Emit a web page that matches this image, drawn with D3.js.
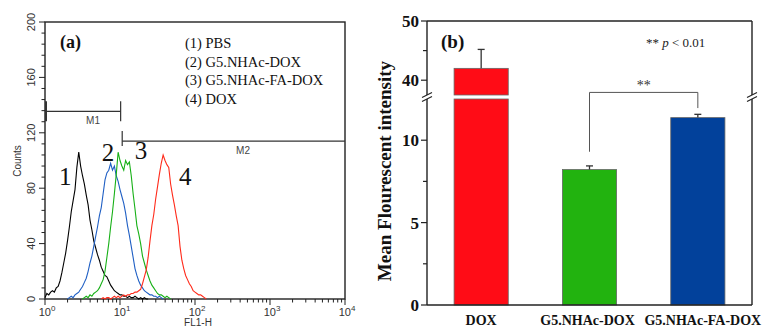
<!DOCTYPE html>
<html>
<head>
<meta charset="utf-8">
<script src="https://cdn.jsdelivr.net/npm/d3@7"></script>
<style>
  html, body { margin: 0; padding: 0; background: #fff; }
  svg { display: block; }
</style>
</head>
<body>
<svg id="fig" width="764" height="328"></svg>
<script>
// ---------- Panel (a): flow cytometry histograms ----------
// Each histogram: counts per channel, channel spacing in log10(FL1-H) units
const channelStep = 0.025;

const pbsStart = 0.0;
const pbsCounts = [1, 4, 3, 5, 6, 5, 8, 9, 13, 19, 26, 33, 42, 52, 63, 71, 79, 95, 106, 96,
  89, 83, 75, 68, 57, 50, 42, 37, 32, 28, 23, 20, 17, 16, 13, 10, 8, 6, 5, 4,
  3, 3, 2, 2, 1, 2, 1, 1, 2, 1, 0, 1, 0, 1, 0, 0];

const g5DoxStart = 0.3;
const g5DoxCounts = [0, 1, 2, 1, 3, 4, 5, 7, 9, 12, 15, 20, 26, 31, 38, 45, 52, 60, 66, 76,
  86, 91, 93, 98, 93, 96, 89, 85, 79, 74, 69, 62, 53, 46, 38, 30, 22, 17, 13, 10,
  8, 6, 5, 4, 3, 3, 2, 2, 1, 2, 1, 0];

const g5FaDoxStart = 0.5;
const g5FaDoxCounts = [0, 1, 2, 1, 3, 2, 4, 5, 6, 8, 11, 14, 20, 30, 40, 52, 63, 76, 90, 106,
  100, 96, 93, 100, 97, 99, 89, 76, 65, 53, 47, 40, 31, 26, 21, 17, 13, 10, 8, 6,
  4, 3, 3, 2, 1, 2, 1, 0];

const doxStart = 0.75;
const doxCounts = [0, 1, 0, 1, 1, 0, 1, 2, 1, 2, 1, 2, 3, 2, 3, 3, 4, 4, 5, 5,
  6, 7, 11, 16, 21, 30, 42, 53, 61, 72, 81, 90, 98, 104, 100, 97, 95, 83, 75, 68,
  60, 53, 38, 28, 22, 17, 14, 11, 9, 6, 5, 4, 3, 3, 2, 1, 0];

const histNames = ["1", "2", "3", "4"];
const histColors = ["#000000", "#1f5fc4", "#16b016", "#ff2a1a"];
const legendLines = ["(1) PBS", "(2) G5.NHAc-DOX", "(3) G5.NHAc-FA-DOX", "(4) DOX"];

// gates (FL1-H range, count level)
const gateM1 = [1, 10.2, 135.5];
const gateM2 = [10.7, 10000, 114];

// ---------- Panel (b): mean fluorescence bar chart ----------
const groups = ["DOX", "G5.NHAc-DOX", "G5.NHAc-FA-DOX"];
const meanFluor = [42.0, 8.22, 11.37];
const meanErr = [3.2, 0.22, 0.2];
const barColors = ["#ff0c16", "#22b30f", "#02419b"];

const svg = d3.select("#fig");
const serif = "'Liberation Serif', 'Times New Roman', serif";
const sans = "'Liberation Sans', Arial, sans-serif";

// ====== Panel (a) ======
const ax = d3.scaleLog().domain([1, 1e4]).range([45, 345]);
const ay = d3.scaleLinear().domain([0, 200]).range([299, 22]);
const ga = svg.append("g");

// frame
ga.append("rect").attr("x", 45).attr("y", 22).attr("width", 300).attr("height", 277)
  .attr("fill", "none").attr("stroke", "#222").attr("stroke-width", 1.4);

// y ticks (every 8 counts, longer every 40)
const yMinor = d3.range(0, 201, 8);
ga.selectAll("line.ymin").data(yMinor).join("line")
  .attr("x1", 45).attr("x2", d => d % 40 === 0 ? 39 : 41.5)
  .attr("y1", d => ay(d)).attr("y2", d => ay(d))
  .attr("stroke", "#222").attr("stroke-width", 1);
ga.selectAll("text.ylab").data(d3.range(0, 201, 40)).join("text")
  .attr("transform", d => `translate(35,${ay(d)}) rotate(-90)`)
  .attr("text-anchor", "middle")
  .attr("font-family", sans).attr("font-size", 11).attr("fill", "#333")
  .text(d => d);
ga.append("text").attr("transform", "translate(21,161) rotate(-90)")
  .attr("text-anchor", "middle").attr("font-family", sans).attr("font-size", 10)
  .attr("fill", "#333").text("Counts");

// x ticks (log)
const xMinor = [];
for (let e = 0; e < 4; e++) for (let m = 2; m <= 9; m++) xMinor.push(m * 10 ** e);
const xMajor = [1, 10, 100, 1000, 10000];
ga.selectAll("line.xmin").data(xMinor).join("line")
  .attr("x1", d => ax(d)).attr("x2", d => ax(d)).attr("y1", 299).attr("y2", 302.5)
  .attr("stroke", "#222").attr("stroke-width", 1);
ga.selectAll("line.xmaj").data(xMajor).join("line")
  .attr("x1", d => ax(d)).attr("x2", d => ax(d)).attr("y1", 299).attr("y2", 305)
  .attr("stroke", "#222").attr("stroke-width", 1);
const xl = ga.selectAll("text.xlab").data(xMajor).join("text")
  .attr("x", d => ax(d) + 2).attr("y", 316).attr("text-anchor", "middle")
  .attr("font-family", sans).attr("font-size", 11).attr("fill", "#333");
xl.append("tspan").text("10");
xl.append("tspan").attr("dy", -5).attr("font-size", 8).text(d => Math.round(Math.log10(d)));
ga.append("text").attr("x", 198).attr("y", 325.5).attr("text-anchor", "middle")
  .attr("font-family", sans).attr("font-size", 10).attr("fill", "#333").text("FL1-H");

// gates
function gline(x1, y1, x2, y2, w) {
  ga.append("line").attr("x1", x1).attr("y1", y1).attr("x2", x2).attr("y2", y2)
    .attr("stroke", "#333").attr("stroke-width", w || 1.2);
}
gline(ax(gateM1[0]) + 1, ay(gateM1[2]), ax(gateM1[1]), ay(gateM1[2]));
gline(ax(gateM1[0]) + 1, ay(gateM1[2]) - 10, ax(gateM1[0]) + 1, ay(gateM1[2]) + 10, 2);
gline(ax(gateM1[1]), ay(gateM1[2]) - 10, ax(gateM1[1]), ay(gateM1[2]) + 10);
ga.append("text").attr("x", 93).attr("y", ay(gateM1[2]) + 13).attr("text-anchor", "middle")
  .attr("font-family", sans).attr("font-size", 10).attr("fill", "#444").text("M1");
gline(ax(gateM2[0]), ay(gateM2[2]), ax(gateM2[1]), ay(gateM2[2]));
gline(ax(gateM2[0]), ay(gateM2[2]) - 10, ax(gateM2[0]), ay(gateM2[2]) + 5);
ga.append("text").attr("x", 243).attr("y", ay(gateM2[2]) + 13).attr("text-anchor", "middle")
  .attr("font-family", sans).attr("font-size", 10).attr("fill", "#444").text("M2");

// histograms
const hists = [
  [pbsStart, pbsCounts], [g5DoxStart, g5DoxCounts],
  [g5FaDoxStart, g5FaDoxCounts], [doxStart, doxCounts]
];
const hline = d3.line()
  .x(d => ax(10 ** d[0]))
  .y(d => ay(d[1]));
hists.forEach(([start, counts], i) => {
  const pts = counts.map((c, k) => [start + k * channelStep, c]);
  ga.append("path").attr("d", hline(pts)).attr("fill", "none")
    .attr("stroke", histColors[i]).attr("stroke-width", 1.1);
});

// curve numbers
const numPos = [[10 ** 0.27, 82], [10 ** 0.84, 100], [10 ** 1.28, 101], [10 ** 1.87, 82]];
ga.selectAll("text.num").data(histNames).join("text")
  .attr("x", (d, i) => ax(numPos[i][0])).attr("y", (d, i) => ay(numPos[i][1]))
  .attr("text-anchor", "middle").attr("font-family", serif).attr("font-size", 25)
  .attr("fill", "#111").text(d => d);

// panel tag and legend
ga.append("text").attr("x", 60).attr("y", 48).attr("font-family", serif)
  .attr("font-weight", "bold").attr("font-size", 18).attr("fill", "#111").text("(a)");
ga.selectAll("text.leg").data(legendLines).join("text")
  .attr("x", 185).attr("y", (d, i) => 48 + i * 18.7)
  .attr("font-family", serif).attr("font-size", 14.5).attr("fill", "#111").text(d => d);

// ====== Panel (b) ======
const gb = svg.append("g");
const bx = d3.scaleBand().domain(groups).range([427, 752]).paddingInner(0.5).paddingOuter(0.25);
const yLow = d3.scaleLinear().domain([0, 12.5]).range([305, 99]);
const yHigh = d3.scaleLinear().domain([37.5, 50]).range([95, 21]);
const yAny = v => v <= 12.5 ? yLow(v) : yHigh(v);

// bars (split across the axis break)
groups.forEach((g, i) => {
  const v = meanFluor[i];
  const x0 = bx(g), w = bx.bandwidth();
  const lowTop = Math.min(v, 12.5);
  gb.append("rect").attr("x", x0).attr("y", yLow(lowTop)).attr("width", w)
    .attr("height", yLow(0) - yLow(lowTop)).attr("fill", barColors[i])
    .attr("stroke", "#666").attr("stroke-width", 0.8);
  if (v > 37.5) {
    gb.append("rect").attr("x", x0).attr("y", yHigh(v)).attr("width", w)
      .attr("height", yHigh(37.5) - yHigh(v)).attr("fill", barColors[i])
      .attr("stroke", "#666").attr("stroke-width", 0.8);
  }
  // upper error bar
  const cx = x0 + w / 2;
  const top = yAny(v + meanErr[i]);
  gb.append("line").attr("x1", cx).attr("x2", cx).attr("y1", yAny(v)).attr("y2", top)
    .attr("stroke", "#333").attr("stroke-width", 1.3);
  gb.append("line").attr("x1", cx - 3.5).attr("x2", cx + 3.5).attr("y1", top).attr("y2", top)
    .attr("stroke", "#333").attr("stroke-width", 1.3);
});

// axes frame with break
const L = 427, R = 752;
function bl(x1, y1, x2, y2, w) {
  gb.append("line").attr("x1", x1).attr("y1", y1).attr("x2", x2).attr("y2", y2)
    .attr("stroke", "#222").attr("stroke-width", w || 1.4);
}
[L, R].forEach(x => {
  bl(x, yHigh(50), x, yHigh(37.5));
  bl(x, yLow(12.5), x, yLow(0));
  bl(x - 5, yHigh(37.5) + 2.5, x + 5, yHigh(37.5) - 2.5, 1.2);
  bl(x - 5, yLow(12.5) + 2.5, x + 5, yLow(12.5) - 2.5, 1.2);
});
bl(L, yHigh(50), R, yHigh(50));
bl(L, yLow(0), R, yLow(0));

// y ticks
const lowMajor = [0, 5, 10], lowMinor = [2.5, 7.5], highMajor = [40, 50], highMinor = [45];
const tickPairs = [
  [lowMajor, yLow, 6], [lowMinor, yLow, 4], [highMajor, yHigh, 6], [highMinor, yHigh, 4]
];
tickPairs.forEach(([vals, sc, len]) => {
  gb.selectAll(null).data(vals).join("line")
    .attr("x1", L - len).attr("x2", L).attr("y1", d => sc(d)).attr("y2", d => sc(d))
    .attr("stroke", "#222").attr("stroke-width", 1.2);
});
[[lowMajor, yLow], [highMajor, yHigh]].forEach(([vals, sc]) => {
  gb.selectAll(null).data(vals).join("text")
    .attr("x", L - 8).attr("y", d => sc(d) + 6).attr("text-anchor", "end")
    .attr("font-family", serif).attr("font-weight", "bold").attr("font-size", 17)
    .attr("fill", "#111").text(d => d);
});

// category labels (the long outer label nudged toward the right edge)
const catNudge = [0, -2, 5];
gb.selectAll("text.cat").data(groups).join("text")
  .attr("x", (d, i) => bx(d) + bx.bandwidth() / 2 + catNudge[i]).attr("y", 325)
  .attr("text-anchor", "middle")
  .attr("font-family", serif).attr("font-weight", "bold").attr("font-size", 14)
  .attr("fill", "#111").text(d => d);

// y title
gb.append("text").attr("transform", "translate(391,171) rotate(-90)")
  .attr("text-anchor", "middle").attr("font-family", serif).attr("font-weight", "bold")
  .attr("font-size", 19).attr("fill", "#111").text("Mean Flourescent intensity");

// significance bracket between the two dendrimer groups
const cG = bx(groups[1]) + bx.bandwidth() / 2, cB = bx(groups[2]) + bx.bandwidth() / 2;
const brTop = 12.9, brLeft = 9.3, brRight = 11.95;
gb.append("path")
  .attr("d", `M${cG},${yLow(brLeft)}V${yLow(brTop)}H${cB}V${yLow(brRight)}`)
  .attr("fill", "none").attr("stroke", "#555").attr("stroke-width", 1);
gb.append("text").attr("x", (cG + cB) / 2).attr("y", yLow(brTop) - 2)
  .attr("text-anchor", "middle").attr("font-family", serif).attr("font-size", 14)
  .attr("fill", "#333").text("**");

// panel tag and p-value note
gb.append("text").attr("x", 441).attr("y", 48).attr("font-family", serif)
  .attr("font-weight", "bold").attr("font-size", 19).attr("fill", "#111").text("(b)");
const pn = gb.append("text").attr("x", 646).attr("y", 47).attr("font-family", serif)
  .attr("font-size", 13).attr("fill", "#222");
pn.append("tspan").text("** ");
pn.append("tspan").attr("font-style", "italic").text("p");
pn.append("tspan").text(" < 0.01");
</script>
</body>
</html>
